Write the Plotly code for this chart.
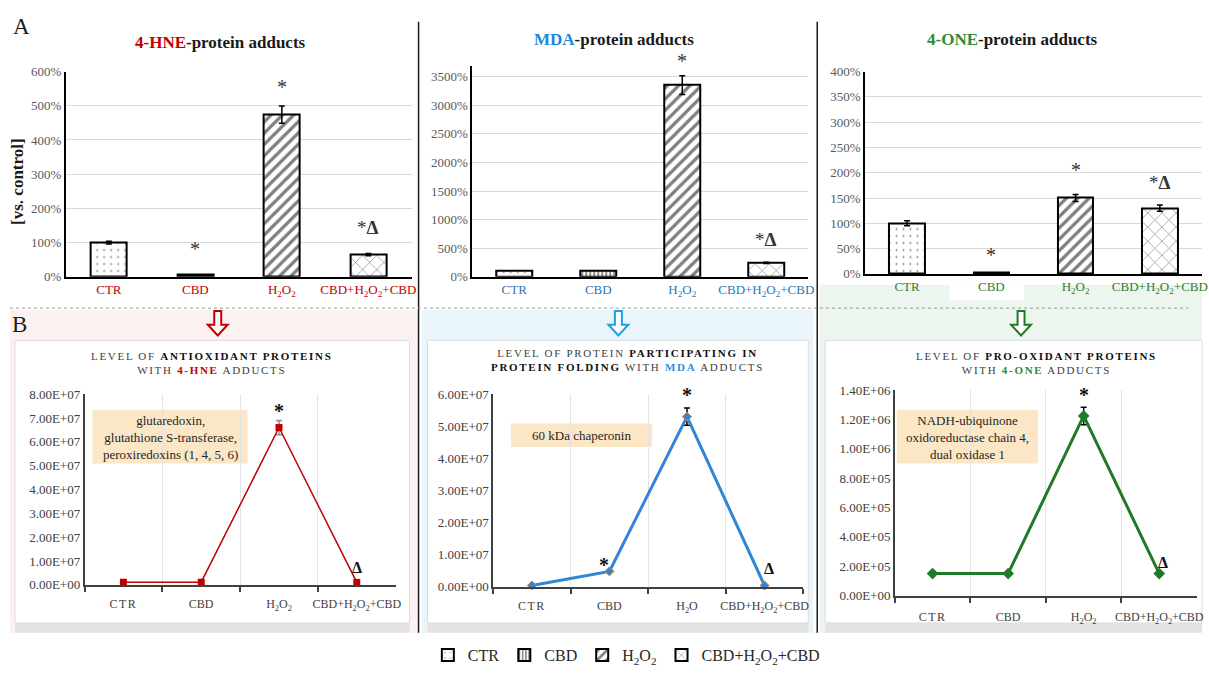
import plotly.graph_objects as go

W, H = 1209, 673
def px(x):
    return x / W
def py(y):
    return 1 - y / H

FONT = "Liberation Serif, Times New Roman, serif"

# ---------------- data ----------------
categories = ["CTR", "CBD", "H2O2", "CBD+H2O2+CBD"]
tick_labels = ["CTR", "CBD", "H<sub>2</sub>O<sub>2</sub>", "CBD+H<sub>2</sub>O<sub>2</sub>+CBD"]
tick_labels_level = ["<span style='letter-spacing:1.5px'>CTR</span>", "CBD",
                     "H<sub>2</sub>O<sub>2</sub>", "CBD+H<sub>2</sub>O<sub>2</sub>+CBD"]
tick_labels_mda_level = ["<span style='letter-spacing:1.5px'>CTR</span>", "CBD",
                         "H<sub>2</sub>O", "CBD+H<sub>2</sub>O<sub>2</sub>+CBD"]
legend_names = ["CTR", "CBD", "H<sub>2</sub>O<sub>2</sub>", "CBD+H<sub>2</sub>O<sub>2</sub>+CBD"]

hne_pct = [100, 8, 474, 65]
hne_pct_err = [4, None, 25, 3]
mda_pct = [100, 100, 3350, 245]
mda_pct_err = [None, None, 165, 10]
one_pct = [100, 2, 150, 130]
one_pct_err = [5, None, 7, 6]

hne_level = [1.1e6, 1.1e6, 6.6e7, 1.0e6]
hne_level_err = [None, None, 3.0e6, None]
mda_level = [4e5, 4.8e6, 5.3e7, 4e5]
mda_level_err = [None, None, 2.7e6, None]
one_level = [1.5e5, 1.5e5, 1.225e6, 1.5e5]
one_level_err = [None, None, 6e4, None]

hne_level_ticks = [0, 1e7, 2e7, 3e7, 4e7, 5e7, 6e7, 7e7, 8e7]
hne_level_ticktext = ["0.00E+00", "1.00E+07", "2.00E+07", "3.00E+07", "4.00E+07",
                      "5.00E+07", "6.00E+07", "7.00E+07", "8.00E+07"]
mda_level_ticks = [0, 1e7, 2e7, 3e7, 4e7, 5e7, 6e7]
mda_level_ticktext = ["0.00E+00", "1.00E+07", "2.00E+07", "3.00E+07", "4.00E+07",
                      "5.00E+07", "6.00E+07"]
one_level_ticks = [0, 2e5, 4e5, 6e5, 8e5, 1.0e6, 1.2e6, 1.4e6]
one_level_ticktext = ["0.00E+00", "2.00E+05", "4.00E+05", "6.00E+05", "8.00E+05",
                      "1.00E+06", "1.20E+06", "1.40E+06"]

# ---------------- styles ----------------
RED = "#c00000"
BLUE = "#2e86d4"
GREEN = "#1f7a2a"
patterns = [dict(shape=".", size=7, solidity=0.06),
            dict(shape="|", size=4, solidity=0.45),
            dict(shape="/", size=8, solidity=0.4),
            dict(shape="x", size=10, solidity=0.12)]

fig = go.Figure()

# ---------------- top bar panels ----------------
top_panels = [
    (hne_pct, hne_pct_err, "x", "y", True),
    (mda_pct, mda_pct_err, "x2", "y2", False),
    (one_pct, one_pct_err, "x3", "y3", False),
]
for vals, errs, xa, ya, show in top_panels:
    for i, cat in enumerate(categories):
        e = errs[i]
        fig.add_trace(go.Bar(
            x=[cat], y=[vals[i]], width=0.42,
            name=legend_names[i], legendgroup=cat, showlegend=show,
            marker=dict(color="white", line=dict(color="black", width=2),
                        pattern=dict(fgcolor="black", bgcolor="white", **patterns[i])),
            error_y=dict(type="data", array=[e], color="black", thickness=1.5, width=3,
                         visible=e is not None),
            xaxis=xa, yaxis=ya, hoverinfo="skip"))

# ---------------- bottom line panels ----------------
bottom_panels = [
    (hne_level, hne_level_err, "x4", "y4", RED, 1.5, dict(symbol="square", size=7, color=RED), "#8c8c8c"),
    (mda_level, mda_level_err, "x5", "y5", BLUE, 3, dict(symbol="diamond", size=7, color=BLUE,
                                                           line=dict(color="#ed7d31", width=1)), "black"),
    (one_level, one_level_err, "x6", "y6", GREEN, 3, dict(symbol="diamond", size=9, color=GREEN), "black"),
]
for vals, errs, xa, ya, col, lw, mk, ecol in bottom_panels:
    fig.add_trace(go.Scatter(
        x=categories, y=vals, mode="lines+markers",
        line=dict(color=col, width=lw), marker=mk, showlegend=False,
        error_y=dict(type="data", array=errs, color=ecol, thickness=1.5, width=3),
        xaxis=xa, yaxis=ya, cliponaxis=False, hoverinfo="skip"))

# ---------------- axes ----------------
tick_font = dict(family=FONT, size=13, color="#595959")

def top_x(lo, hi, labels, color, anchor):
    return dict(domain=[px(lo), px(hi)], anchor=anchor, type="category",
                categoryorder="array", categoryarray=categories,
                tickmode="array", tickvals=categories, ticktext=labels, tickangle=0,
                tickfont=dict(family=FONT, size=13, color=color),
                showline=True, linecolor="black", linewidth=1.5, ticks="",
                showgrid=False, range=[-0.5, 3.5], fixedrange=True)

def top_y(top, bottom, rng, dtick, anchor):
    return dict(domain=[py(bottom), py(top)], anchor=anchor, range=rng, dtick=dtick,
                ticksuffix="%", tickfont=tick_font, showgrid=True, gridcolor="#d9d9d9",
                gridwidth=1, showline=True, linecolor="black", linewidth=1.5,
                ticks="", zeroline=False, fixedrange=True)

def bot_x(lo, hi, labels, anchor, standoff):
    return dict(domain=[px(lo), px(hi)], anchor=anchor, type="category",
                categoryorder="array", categoryarray=categories,
                tickmode="array", tickvals=categories, ticktext=labels, tickangle=0,
                tickson="boundaries", ticks="outside", ticklen=5, tickcolor="#404040",
                tickwidth=1.5, ticklabelstandoff=standoff,
                tickfont=dict(family=FONT, size=12, color="#404040"),
                showline=True, linecolor="#404040", linewidth=2,
                showgrid=True, gridcolor="#e3e3e3", gridwidth=1,
                range=[-0.5, 3.5], fixedrange=True)

def bot_y(top, bottom, rng, tv, tt, anchor):
    return dict(domain=[py(bottom), py(top)], anchor=anchor, range=rng,
                tickmode="array", tickvals=tv, ticktext=tt,
                tickfont=dict(family=FONT, size=13, color="#404040"),
                showgrid=False, showline=True, linecolor="#404040", linewidth=1.5,
                ticks="", zeroline=False, fixedrange=True)

fig.update_layout(
    xaxis=top_x(66, 414, tick_labels, RED, "y"),
    yaxis=top_y(66, 276, [0, 600], 100, "x"),
    xaxis2=top_x(475, 813, tick_labels, "#2e75b6", "y2"),
    yaxis2=top_y(60, 276, [0, 3690], 500, "x2"),
    xaxis3=top_x(870, 1209, tick_labels, "#2e7d32", "y3"),
    yaxis3=top_y(66, 273, [0, 400], 50, "x3"),
    xaxis4=bot_x(85, 398, tick_labels_level, "y4", 7),
    yaxis4=bot_y(396, 591, [0, 8e7], hne_level_ticks, hne_level_ticktext, "x4"),
    xaxis5=bot_x(496, 808, tick_labels_mda_level, "y5", 7),
    yaxis5=bot_y(396, 593, [0, 6e7], mda_level_ticks, mda_level_ticktext, "x5"),
    xaxis6=bot_x(900, 1204, tick_labels_level, "y6", 9),
    yaxis6=bot_y(392, 602, [0, 1.4e6], one_level_ticks, one_level_ticktext, "x6"),
)

# ---------------- decorative shapes ----------------
shapes = []
def rect(x0, y0, x1, y1, fill, line=None, layer="below"):
    shapes.append(dict(type="rect", xref="paper", yref="paper", x0=px(x0), x1=px(x1),
                       y0=py(y1), y1=py(y0), fillcolor=fill, layer=layer,
                       line=line or dict(width=0)))

# outer tinted panels
rect(10, 310, 420, 640, "#fcf1f1")
rect(424, 310, 818, 640, "#eaf4fb")
rect(824, 284, 1209, 640, "#edf5ef")
rect(955, 284, 1030, 300, "white")
# shadows + white boxes
for x0, x1 in [(15, 412), (430, 813), (830, 1209)]:
    rect(x0, 630, x1, 640, "#e3e3e3")
    rect(x0, 341, x1, 630, "white", dict(color="#dcdcdc", width=1))
# beige label boxes
rect(93, 412, 249, 467, "#fbe7c6")
rect(514, 426, 656, 450, "#fbe7c6")
rect(902, 412, 1044, 467, "#fbe7c6")

# divider lines
for xv in [421, 822]:
    shapes.append(dict(type="line", xref="paper", yref="paper", x0=px(xv), x1=px(xv),
                       y0=py(640), y1=py(15), line=dict(color="#1a1a1a", width=1.5)))
shapes.append(dict(type="line", xref="paper", yref="paper", x0=px(10), x1=px(1195),
                   y0=py(308), y1=py(308), line=dict(color="#9a9a9a", width=1, dash="dot")))

# outline arrows
def arrow(cx, top, col):
    sw, hw, shaft_end, tip = 3.5, 10, top + 14, top + 25
    pts = [(cx - sw, top), (cx + sw, top), (cx + sw, shaft_end), (cx + hw, shaft_end),
           (cx, tip), (cx - hw, shaft_end), (cx - sw, shaft_end)]
    path = "M " + " L ".join(f"{px(a):.5f},{py(b):.5f}" for a, b in pts) + " Z"
    shapes.append(dict(type="path", xref="paper", yref="paper", path=path,
                       fillcolor="white", line=dict(color=col, width=2), layer="above"))
arrow(219, 311, RED)
arrow(622, 311, "#1ea0e6")
arrow(1027, 311, GREEN)

fig.update_layout(shapes=shapes)

# ---------------- annotations ----------------
ann = []
def pa(x, y, text, size=13, color="#262626", **kw):
    ann.append(dict(xref="paper", yref="paper", x=px(x), y=py(y), text=text,
                    xanchor="center", yanchor="middle",
                    showarrow=False, font=dict(family=FONT, size=size, color=color), **kw))

pa(22, 20, "A", size=23, color="#1a1a1a")
pa(20, 325, "B", size=23, color="#1a1a1a")

pa(222, 36, f"<b><span style='color:{RED}'>4-HNE</span>-protein adducts</b>", size=17, color="#1a1a1a")
pa(618, 33, "<b><span style='color:#1f88d8'>MDA</span>-protein adducts</b>", size=17, color="#1a1a1a")
pa(1018, 33, "<b><span style='color:#2e8b3a'>4-ONE</span>-protein adducts</b>", size=17, color="#1a1a1a")
pa(17, 178, "<b>[vs. control]</b>", size=17, color="#1a1a1a", textangle=-90)

LS = "letter-spacing:1.7px"
pa(213, 364, f"<span style='{LS}'>LEVEL OF <b style='color:#111'>ANTIOXIDANT PROTEINS</b></span><br>"
             f"<span style='{LS}'>WITH <b><span style='color:{RED}'>4-HNE</span></b> ADDUCTS</span>",
   size=11, color="#404040")
pa(631, 361, f"<span style='{LS}'>LEVEL OF PROTEIN <b style='color:#111'>PARTICIPATING IN</b></span><br>"
             f"<span style='{LS}'><b style='color:#111'>PROTEIN FOLDING</b> WITH <b><span style='color:#2e8fd8'>MDA</span></b> ADDUCTS</span>",
   size=11, color="#404040")
pa(1043, 364, f"<span style='{LS}'>LEVEL OF <b style='color:#111'>PRO-OXIDANT PROTEINS</b></span><br>"
              f"<span style='{LS}'>WITH <b><span style='color:#2e8b3a'>4-ONE</span></b> ADDUCTS</span>",
   size=11, color="#404040")

pa(171, 440, "glutaredoxin,<br>glutathione S-transferase,<br>peroxiredoxins (1, 4, 5, 6)", size=13)
pa(585, 438, "60 kDa chaperonin", size=13)
pa(973, 440, "NADH-ubiquinone<br>oxidoreductase chain 4,<br>dual oxidase 1", size=13)

# significance marks anchored at data points
def mark(xa, ya, cat, yval, text, yshift, size=20, color="#333333", xshift=0):
    ann.append(dict(xref=xa, yref=ya, x=cat, y=yval, text=text, showarrow=False,
                    yshift=yshift, xshift=xshift, yanchor="bottom", xanchor="center",
                    font=dict(family=FONT, size=size, color=color)))

mark("x", "y", categories[1], hne_pct[1], "*", 12)
mark("x", "y", categories[2], hne_pct[2] + hne_pct_err[2], "*", 6)
mark("x", "y", categories[3], hne_pct[3] + hne_pct_err[3], "*<b>Δ</b>", 14, size=19)
mark("x2", "y2", categories[2], mda_pct[2] + mda_pct_err[2], "*", 2)
mark("x2", "y2", categories[3], mda_pct[3] + mda_pct_err[3], "*<b>Δ</b>", 10, size=19)
mark("x3", "y3", categories[1], one_pct[1], "*", 5)
mark("x3", "y3", categories[2], one_pct[2] + one_pct_err[2], "*", 11)
mark("x3", "y3", categories[3], one_pct[3] + one_pct_err[3], "*<b>Δ</b>", 10, size=19)

mark("x4", "y4", categories[2], hne_level[2] + hne_level_err[2], "<b>*</b>", -4, color="#111")
mark("x4", "y4", categories[3], hne_level[3], "<b>Δ</b>", 4, size=16, color="#111")
mark("x5", "y5", categories[1], mda_level[1], "<b>*</b>", -7, color="#111", xshift=-5)
mark("x5", "y5", categories[2], mda_level[2] + mda_level_err[2], "<b>*</b>", 0, color="#111")
mark("x5", "y5", categories[3], mda_level[3], "<b>Δ</b>", 7, size=16, color="#111", xshift=4)
mark("x6", "y6", categories[2], one_level[2] + one_level_err[2], "<b>*</b>", -1, color="#111")
mark("x6", "y6", categories[3], one_level[3], "<b>Δ</b>", 1, size=16, color="#111", xshift=4)

fig.update_layout(annotations=ann)

fig.update_layout(
    width=W, height=H, margin=dict(l=0, r=0, t=0, b=0),
    paper_bgcolor="white", plot_bgcolor="rgba(0,0,0,0)",
    barmode="overlay", bargap=0,
    font=dict(family=FONT, color="#262626"),
    legend=dict(orientation="h", x=px(630), xanchor="center", y=py(663), yanchor="middle",
                font=dict(family=FONT, size=16, color="#262626"), itemwidth=30,
                bgcolor="rgba(0,0,0,0)", tracegroupgap=0, traceorder="normal"),
)

fig.write_html("out.html")
